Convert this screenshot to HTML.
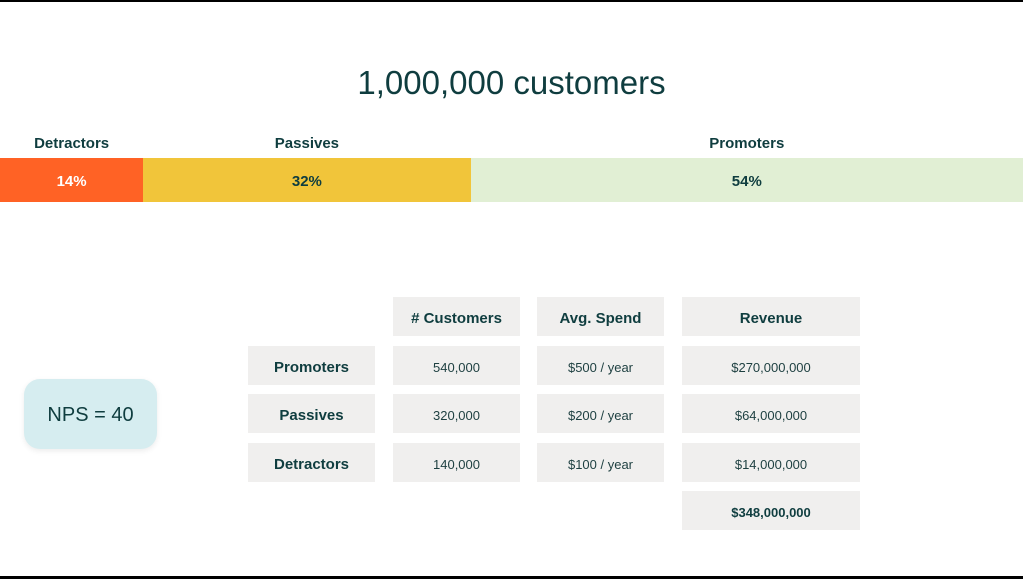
<!DOCTYPE html>
<html><head><meta charset="utf-8"><style>
html,body{margin:0;padding:0}
body{width:1023px;height:579px;position:relative;background:#fff;overflow:hidden;font-family:"Liberation Sans",sans-serif;color:#0f3d3f}
.abs{position:absolute}
.cell{position:absolute;background:#f0efee;display:flex;align-items:center;justify-content:center;font-size:13px;color:#1d3f40;box-sizing:border-box;padding-top:3px}
.b{font-weight:bold;font-size:15px;color:#0f3d3f}
.seg{position:absolute;top:158px;height:44px;display:flex;align-items:center;justify-content:center;font-weight:bold;font-size:15px;box-sizing:border-box;padding-top:3px}
.lab{position:absolute;top:135px;font-weight:bold;font-size:15px;text-align:center}
</style></head><body>
<div class="abs" style="left:0;top:0;width:1023px;height:2px;background:#000"></div>
<div class="abs" style="left:0;top:576px;width:1023px;height:3px;background:#000"></div>
<div class="abs" style="left:0;top:64px;width:1023px;text-align:center;font-size:33px;color:#0f3d3f">1,000,000 customers</div>
<div id="bar"></div>
<div class="abs" style="left:24px;top:379px;width:133px;height:70px;border-radius:16px;background:#d6edf0;box-shadow:0 2px 6px rgba(0,0,0,0.08);display:flex;align-items:center;justify-content:center;font-size:20px;box-sizing:border-box;padding-top:2px">NPS = 40</div>
<div id="table"></div>
<script>
const segLabels=["Detractors","Passives","Promoters"];
const segValues=[14,32,54];
const segColors=["#ff6225","#f1c53a","#e1efd4"];
const segText=["#fff","#0f3d3f","#0f3d3f"];
const W=1023;
const bar=document.getElementById('bar');
let acc=0;
segValues.forEach((v,i)=>{
  const x=acc/100*W, w=v/100*W; acc+=v;
  const s=document.createElement('div');
  s.className='seg';
  
  
  s.style.left=x+'px';s.style.width=w+'px';s.style.background=segColors[i];s.style.color=segText[i];
  s.textContent=v+'%';
  bar.appendChild(s);
  const l=document.createElement('div');
  l.className='lab';
  
  
  l.style.left=x+'px';l.style.width=w+'px';
  l.textContent=segLabels[i];
  bar.appendChild(l);
});
const headers=["# Customers","Avg. Spend","Revenue"];
const rowLabels=["Promoters","Passives","Detractors"];
const customers=["540,000","320,000","140,000"];
const spend=["$500 / year","$200 / year","$100 / year"];
const revenue=["$270,000,000","$64,000,000","$14,000,000"];
const total="$348,000,000";
const cols=[[248,127],[393,127],[537,127],[682,178]];
const rows=[297,346,394,443,491];
const tb=document.getElementById('table');
function cell(c,r,txt,bold,name){
  const d=document.createElement('div');
  d.className='cell'+(bold?' b':'');
  
  
  d.style.left=cols[c][0]+'px';d.style.width=cols[c][1]+'px';
  d.style.top=rows[r]+'px';d.style.height='39px';
  d.textContent=txt;tb.appendChild(d);
  return d;
}
headers.forEach((h,i)=>cell(i+1,0,h,true,'column-header'));
rowLabels.forEach((r,i)=>{
  cell(0,i+1,r,true,'row-header');
  cell(1,i+1,customers[i],false,'customers-cell');
  cell(2,i+1,spend[i],false,'spend-cell');
  cell(3,i+1,revenue[i],false,'revenue-cell');
});
const t=cell(3,4,total,true,'total-revenue-cell');
t.style.fontSize='13px';
</script>
</body></html>
